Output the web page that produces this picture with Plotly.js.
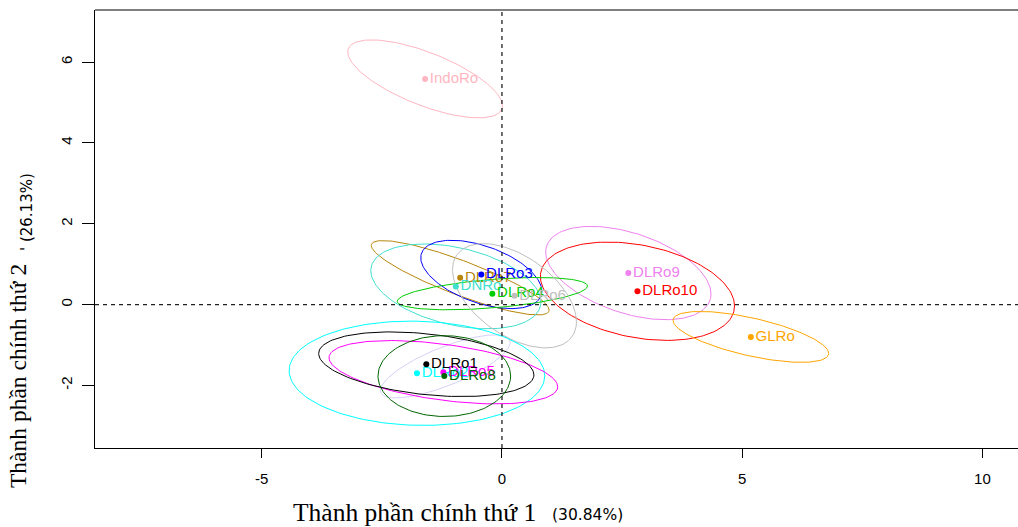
<!DOCTYPE html>
<html>
<head>
<meta charset="utf-8">
<script src="https://cdn.plot.ly/plotly-3.0.1.min.js"></script>
<style>html,body{margin:0;padding:0;background:#fff;}#chart{width:1018px;height:527px;}</style>
</head>
<body>
<div id="chart"></div>
<script>
// Group labels (drawing order) and their PCA scores
const groups = ['IndoRo','DLRo9','DLRo10','GLRo','DLRo7','DNRo','DLRo3','DLRo4','DLRo6','DLRo2','DLRo5','DLRo1','DLRo8'];
const pc1    = [-1.60, 2.63, 2.82, 5.18, -0.87, -0.96, -0.43, -0.20, 0.26, -1.77, -1.22, -1.575, -1.20];
const pc2    = [ 5.585, 0.78, 0.33, -0.80, 0.663, 0.45, 0.745, 0.27, 0.218, -1.70, -1.675, -1.477, -1.77];
// Confidence ellipse parameters: half-width on PC1, half-height on PC2, correlation
const ellRx  = [1.61, 1.72, 2.02, 1.62, 1.85, 1.77, 1.26, 1.98, 1.29, 2.66, 2.38, 2.24, 1.38];
const ellRy  = [0.965, 1.155, 1.217, 0.63, 0.92, 1.05, 0.846, 0.40, 1.29, 1.29, 0.784, 0.80, 1.0];
const ellRho = [-0.69, -0.45, -0.30, -0.65, -0.87, -0.37, -0.49, 0.47, -0.5, -0.05, -0.46, -0.33, 0.0];
// Extra faint ellipse without visible label
const extraCx = [-1.18], extraCy = [-1.53], extraRx = [1.35], extraRy = [0.78], extraRho = [0.76];

const xTicks = [-5, 0, 5, 10];
const yTicks = [-2, 0, 2, 4, 6];

const colors = ['#FFB6C1','#EE82EE','#FF0000','#FFA500','#B8860B','#40E0D0','#0000FF','#00CD00','#BEBEBE','#00FFFF','#FF00FF','#000000','#006400'];
const extraColor = '#D8D0F5';

function ellipse(cx, cy, rx, ry, rho) {
  const xs = [], ys = [];
  const s = Math.sqrt(1 - rho * rho);
  const n = 160;
  for (let i = 0; i <= n; i++) {
    const t = 2 * Math.PI * i / n;
    xs.push(cx + rx * Math.cos(t));
    ys.push(cy + ry * (rho * Math.cos(t) + s * Math.sin(t)));
  }
  return {xs, ys};
}

const traces = [];
for (let k = 0; k < extraCx.length; k++) {
  const e = ellipse(extraCx[k], extraCy[k], extraRx[k], extraRy[k], extraRho[k]);
  traces.push({x: e.xs, y: e.ys, mode: 'lines', line: {color: extraColor, width: 1}, hoverinfo: 'skip', showlegend: false});
}
for (let i = 0; i < groups.length; i++) {
  const e = ellipse(pc1[i], pc2[i], ellRx[i], ellRy[i], ellRho[i]);
  traces.push({x: e.xs, y: e.ys, mode: 'lines', line: {color: colors[i], width: 1}, hoverinfo: 'skip', showlegend: false});
}
for (let i = 0; i < groups.length; i++) {
  traces.push({x: [pc1[i]], y: [pc2[i]], mode: 'markers+text', text: [groups[i]],
    textposition: 'middle right', textfont: {family: 'Liberation Sans, Arial, sans-serif', size: 15, color: colors[i]},
    marker: {color: colors[i], size: 6}, cliponaxis: false, showlegend: false, hoverinfo: 'text'});
}

const layout = {
  width: 1018, height: 527,
  margin: {l: 95, r: 0, t: 10, b: 79},
  paper_bgcolor: '#fff', plot_bgcolor: '#fff',
  showlegend: false,
  xaxis: {range: [-8.47, 10.74], tickvals: xTicks, ticktext: xTicks.map(String), ticks: 'outside', ticklen: 9, tickcolor: '#000',
    showline: true, linecolor: '#000', linewidth: 1, showgrid: false, zeroline: false,
    tickfont: {family: 'Liberation Sans, Arial, sans-serif', size: 15, color: '#000'}, ticklabelstandoff: 8},
  yaxis: {range: [-3.55, 7.29], tickvals: yTicks, ticktext: yTicks.map(String), ticks: 'outside', ticklen: 12, tickcolor: '#000',
    showline: true, linecolor: '#000', linewidth: 1, showgrid: false, zeroline: false, tickangle: -90,
    tickfont: {family: 'Liberation Sans, Arial, sans-serif', size: 15, color: '#000'}, ticklabelstandoff: 4},
  shapes: [
    {type: 'line', xref: 'paper', yref: 'paper', x0: 0, x1: 1, y0: 1, y1: 1, line: {color: '#000', width: 1}},
    {type: 'line', xref: 'x', yref: 'paper', x0: 0, x1: 0, y0: 0, y1: 1, line: {color: '#222', width: 1.3, dash: '4px,4px'}},
    {type: 'line', xref: 'paper', yref: 'y', x0: 0, x1: 1, y0: 0, y1: 0, line: {color: '#222', width: 1.3, dash: '4px,4px'}}
  ],
  annotations: [
    {xref: 'paper', yref: 'paper', x: (291 - 95) / 923, y: (448 - 512) / 438, xanchor: 'left', yanchor: 'middle', showarrow: false,
     text: 'Thành phần chính thứ 1', font: {family: 'Liberation Serif, Times New Roman, serif', size: 25.5, color: '#000'}},
    {xref: 'paper', yref: 'paper', x: (550 - 95) / 923, y: (448 - 515) / 438, xanchor: 'left', yanchor: 'middle', showarrow: false,
     text: '(30.84%)', font: {family: 'DejaVu Sans, sans-serif', size: 15.5, color: '#000'}},
    {xref: 'paper', yref: 'paper', x: 0, xshift: -77, y: (448 - 376) / 438, xanchor: 'center', yanchor: 'middle', showarrow: false, textangle: -90,
     text: 'Thành phần chính thứ 2', font: {family: 'Liberation Serif, Times New Roman, serif', size: 23.5, color: '#000'}},
    {xref: 'paper', yref: 'paper', x: 0, xshift: -68, y: (448 - 212) / 438, xanchor: 'center', yanchor: 'middle', showarrow: false, textangle: -90,
     text: "' (26.13%)", font: {family: 'DejaVu Sans, sans-serif', size: 15, color: '#000'}}
  ]
};

Plotly.newPlot('chart', traces, layout, {displayModeBar: false, staticPlot: true});
</script>
</body>
</html>
